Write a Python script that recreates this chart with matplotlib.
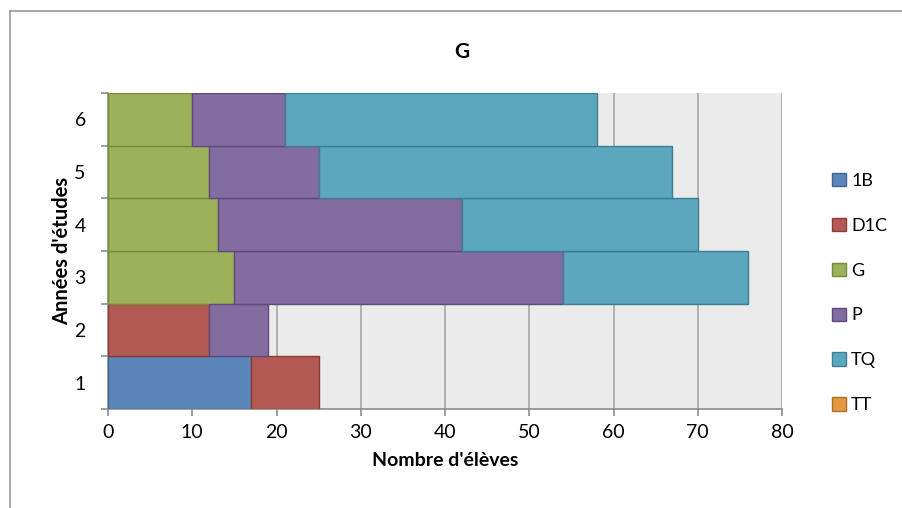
import matplotlib
matplotlib.use("Agg")
import matplotlib.pyplot as plt
from matplotlib.lines import Line2D
from matplotlib.patches import Patch
import numpy as np

plt.rcParams['font.family'] = ['Lato', 'DejaVu Sans']

years = [1, 2, 3, 4, 5, 6]
series = ["1B", "D1C", "G", "P", "TQ", "TT"]
v_1B  = [17, 0, 0, 0, 0, 0]
v_D1C = [8, 12, 0, 0, 0, 0]
v_G   = [0, 0, 15, 13, 12, 10]
v_P   = [0, 7, 39, 29, 13, 11]
v_TQ  = [0, 0, 22, 28, 42, 37]
v_TT  = [0, 0, 0, 0, 0, 0]
values = [v_1B, v_D1C, v_G, v_P, v_TQ, v_TT]
x_ticks = [0, 10, 20, 30, 40, 50, 60, 70, 80]

colors = ["#5B86B9", "#B35A54", "#9DB15A", "#826CA0", "#5DA7BE", "#E29742"]
edges = ["#3F6592", "#8C3B36", "#77893C", "#5E4A7C", "#3C7E93", "#B06E25"]

fig = plt.figure(figsize=(9.03, 5.08), dpi=100)
ax = fig.add_axes([108/903, 1-409/508, (782-108)/903, (409-93)/508])
ax.set_facecolor("#EBEBEB")

left = np.zeros(len(years))
for name, vals, c, ec in zip(series, values, colors, edges):
    vals = np.array(vals, dtype=float)
    mask = vals > 0
    ax.barh(np.array(years)[mask], vals[mask], left=left[mask], height=1.0,
            color=c, edgecolor=ec, linewidth=1.0, zorder=3)
    left += vals

ax.set_xlim(0, 80)
ax.set_ylim(0.5, 6.5)
ax.set_xticks(x_ticks)
ax.set_xticklabels([str(t) for t in x_ticks], fontsize=14)
ax.xaxis.grid(True, color="#A6A6A6", linewidth=1.2, zorder=0)
ax.set_axisbelow(True)

ax.set_yticks(np.arange(0.5, 7.0, 1.0))
ax.set_yticklabels([])
ax.set_yticks(years, minor=True)
ax.set_yticklabels([str(y) for y in years], minor=True, fontsize=14)
ax.tick_params(axis='y', which='minor', length=0, pad=16)
ax.tick_params(axis='y', which='major', length=5, color="#8C8C8C", width=1.2, direction='out')
ax.tick_params(axis='x', length=5, color="#8C8C8C", width=1.2, direction='out', pad=6)

for s in ["top", "right"]:
    ax.spines[s].set_visible(False)
for s in ["left", "bottom"]:
    ax.spines[s].set_color("#8C8C8C")
    ax.spines[s].set_linewidth(1.2)

ax.set_xlabel("Nombre d'élèves", fontsize=14, fontweight='bold', labelpad=8)
ax.set_ylabel("Années d'études", fontsize=14.5, fontweight='bold', labelpad=2)
fig.text(462/903, 1-52/508, "G", fontsize=15, fontweight='bold', ha='center', va='center')

handles = [Patch(facecolor=c, edgecolor=ec, linewidth=1.0) for c, ec in zip(colors, edges)]
leg = fig.legend(handles, series, loc='center left', bbox_to_anchor=(816/903, 1-293/508),
                 frameon=False, fontsize=13, handlelength=0.75, handleheight=0.75,
                 handletextpad=0.3, labelspacing=1.6)

# outer chart border (top and left visible)
fig.add_artist(Line2D([10/903, 1.0], [1-11/508, 1-11/508], color="#9A9A9A", linewidth=1.2,
                      transform=fig.transFigure))
fig.add_artist(Line2D([10/903, 10/903], [0.0, 1-11/508], color="#9A9A9A", linewidth=1.2,
                      transform=fig.transFigure))

fig.savefig("out.png", dpi=100)
